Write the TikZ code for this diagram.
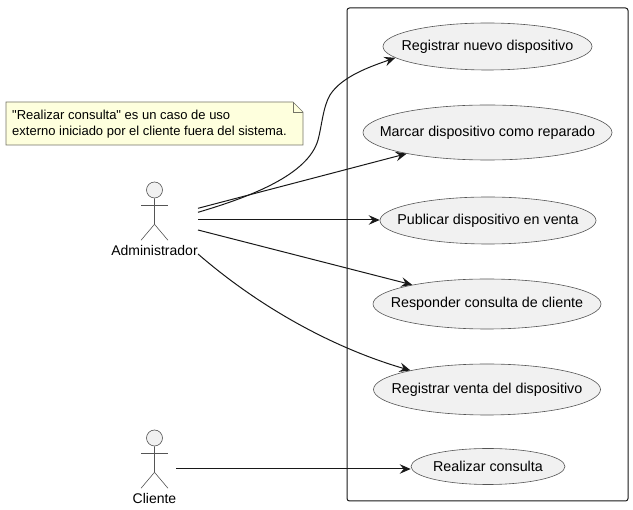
\documentclass[tikz,border=0pt]{standalone}
\usepackage{fontspec}
\setmainfont{Liberation Sans}
\newfontfamily\plainquotes{Liberation Sans}
\usetikzlibrary{shapes.geometric,arrows.meta,calc}
\definecolor{ucfill}{HTML}{F1F1F1}
\definecolor{ucline}{HTML}{181818}
\definecolor{stickline}{HTML}{555555}
\definecolor{notefill}{HTML}{FEFFDD}
\begin{document}
\begin{tikzpicture}[x=1pt,y=-1pt,
  every node/.style={font=\fontsize{14}{16}\selectfont,text=black},
  usecase/.style={ellipse,draw=stickline,line width=.6pt,fill=ucfill,inner sep=0pt},
  uctext/.style={font=\fontsize{14.3}{16}\selectfont,inner sep=0pt},
  sysbox/.style={draw=ucline,line width=1pt,rounded corners=2.5pt},
  flow/.style={draw=ucline,line width=1pt,-{Stealth[length=11pt,width=9.5pt,inset=4pt]}},
  stick/.style={draw=stickline,line width=.6pt},
  notepath/.style={draw=ucline!60!notefill,line width=.6pt,fill=notefill}]
\useasboundingbox (0,0) rectangle (633,510);
\node[sysbox,minimum width=281pt,minimum height=493pt,inner sep=0pt] (system) at (487.5,254.5) {};

\foreach \n/\x/\y/\w/\h/\t in {
  e1/487.5/46.5/209/47/Registrar nuevo dispositivo,
  e2/487.5/132.5/249/55/Marcar dispositivo como reparado,
  e3/488/220.5/216/47/Publicar dispositivo en venta,
  e4/487/304/228/50/Responder consulta de cliente,
  e5/487/389.5/227/51/Registrar venta del dispositivo,
  e6/488/466.5/154/36/Realizar consulta}{
  \node[usecase,minimum width=\w pt,minimum height=\h pt,label={[uctext]center:\t}] (\n) at (\x,\y) {};
}

% note
\coordinate (nw) at (6,102);
\coordinate (ne) at (303,102);
\coordinate (se) at (303,145);
\coordinate (sw) at (6,145);
\draw[notepath] (nw) -- ($(ne)+(-10,0)$) -- ($(ne)+(0,10)$) -- (se) -- (sw) -- cycle;
\draw[notepath,fill=none] ($(ne)+(-10,0)$) -- ($(ne)+(-10,10)$) -- ($(ne)+(0,10)$);
\node[font=\plainquotes\fontsize{13}{16}\selectfont,inner sep=0pt,align=left,anchor=west] (note) at (12,124)
  {"Realizar consulta" es un caso de uso\\externo iniciado por el cliente fuera del sistema.};

% actors
\node[circle,draw=stickline,line width=.6pt,fill=ucfill,minimum size=16pt,inner sep=0pt] (admin) at (154.5,190) {};
\draw[stick] (admin.south) -- ++(0,26) coordinate (adminhip) -- ++(-13.5,16);
\draw[stick] (adminhip) -- ++(13.5,16);
\draw[stick] ($(admin.south)+(-13.5,7)$) -- ++(27,0);
\node[inner sep=0pt] (adminlabel) at (154.5,250.5) {Administrador};

\node[circle,draw=stickline,line width=.6pt,fill=ucfill,minimum size=16pt,inner sep=0pt] (client) at (154.5,438) {};
\draw[stick] (client.south) -- ++(0,26) coordinate (clienthip) -- ++(-13.5,16);
\draw[stick] (clienthip) -- ++(13.5,16);
\draw[stick] ($(client.south)+(-13.5,7)$) -- ++(27,0);
\node[inner sep=0pt] (clientlabel) at (154.5,498) {Cliente};

% connector starts
\coordinate (a1) at (198,212.3);
\coordinate (a2) at (198,208.3);
\coordinate (a3) at (198,220);
\coordinate (a4) at (198,230);
\coordinate (a5) at (198,254);
\coordinate (c1) at (176,469);

\draw[flow] (a1) .. controls (250,197) and (308,175) .. (318,140) .. controls (322,125) and (323,107) .. (330,95) .. controls (342,76) and (372,66) .. (e1.187.3);
\draw[flow] (a2) -- (e2);
\draw[flow] (a3) -- (e3.west |- a3);
\draw[flow] (a4) -- (e4);
\draw[flow] (a5) .. controls (265,312) and (340,350) .. (e5.166.7);
\draw[flow] (c1) -- (e6.west |- c1);
\end{tikzpicture}
\end{document}
